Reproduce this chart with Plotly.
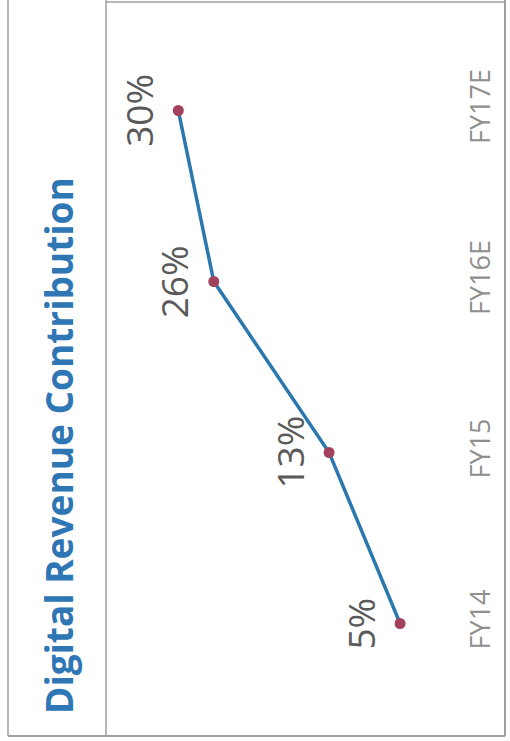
import plotly.graph_objects as go

# Share of revenue coming from digital, by fiscal year
categories = ["FY14", "FY15", "FY16E", "FY17E"]
digital_share = [5, 13, 26, 30]
value_labels = ["5%", "13%", "26%", "30%"]
title_text = "Digital Revenue Contribution"

W, H = 510, 741

fig = go.Figure()

fig.add_trace(go.Scatter(
    x=digital_share,
    y=categories,
    mode="lines+markers",
    line=dict(color="#2a78ad", width=3.5),
    marker=dict(color="#a3405c", size=11, line=dict(width=0)),
    hoverinfo="skip",
    showlegend=False,
))

# Value labels, rotated with the chart, sitting on the high-value side of each point
for v, c, t in zip(digital_share, categories, value_labels):
    fig.add_annotation(
        x=v, y=c, xref="x", yref="y",
        text=t, showarrow=False, textangle=-90,
        xshift=-40, xanchor="center", yanchor="middle",
        font=dict(family="Open Sans", size=37, color="#5a5a5a"),
    )

# Vertical title in the left panel
fig.add_annotation(
    x=58 / W, y=1 - 446 / H, xref="paper", yref="paper",
    text="<b>" + title_text + "</b>", showarrow=False, textangle=-90,
    xanchor="center", yanchor="middle",
    font=dict(family="Open Sans", size=37, color="#2f76b5"),
)

# Panel frame and divider
frame = "#a0a0a0"
def px_x(p):
    return p / W
def px_y(p):
    return 1 - p / H

shapes = [
    dict(type="line", xref="paper", yref="paper", x0=px_x(8), x1=px_x(8), y0=px_y(0), y1=px_y(736), line=dict(color=frame, width=1.5)),
    dict(type="line", xref="paper", yref="paper", x0=px_x(106), x1=px_x(106), y0=px_y(0), y1=px_y(736), line=dict(color=frame, width=1.5)),
    dict(type="line", xref="paper", yref="paper", x0=px_x(505), x1=px_x(505), y0=px_y(0), y1=px_y(736), line=dict(color=frame, width=2)),
    dict(type="line", xref="paper", yref="paper", x0=px_x(106), x1=px_x(505), y0=px_y(2), y1=px_y(2), line=dict(color=frame, width=1.5)),
    dict(type="line", xref="paper", yref="paper", x0=px_x(8), x1=px_x(505), y0=px_y(736), y1=px_y(736), line=dict(color=frame, width=2)),
]

fig.update_layout(
    width=W, height=H,
    margin=dict(l=0, r=0, t=0, b=0),
    paper_bgcolor="white",
    plot_bgcolor="white",
    shapes=shapes,
    xaxis=dict(
        domain=[110 / W, 462 / W],
        range=[37.7, -1.98],
        showgrid=False, zeroline=False, showline=False,
        showticklabels=False, ticks="",
    ),
    yaxis=dict(
        domain=[1 - 709 / H, 1 - 25 / H],
        type="category",
        categoryorder="array", categoryarray=categories,
        range=[-0.5, 3.5],
        side="right",
        tickangle=-90,
        ticklabelstandoff=0,
        showgrid=False, zeroline=False, showline=False, ticks="",
        tickfont=dict(family="Open Sans", size=27, color="#8f8f8f"),
    ),
)

fig.write_html("out.html")
